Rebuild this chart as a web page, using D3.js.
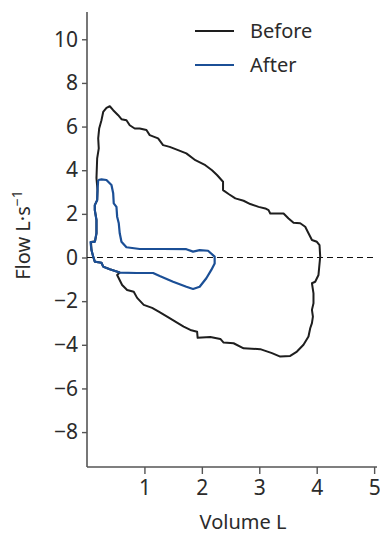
<!DOCTYPE html>
<html>
<head>
<meta charset="utf-8">
<script src="https://cdn.jsdelivr.net/npm/d3@7"></script>
<style>
  body { margin: 0; background: #fff; }
  text { font-family: "Noto Sans", "Open Sans", sans-serif; fill: #2b2b2b; }
</style>
</head>
<body>
<div id="chart"></div>
<script>
// flow-volume loops, volume in L, flow in L/s
var beforeVolume = [0.108, 0.078, 0.070, 0.140, 0.165, 0.165, 0.136, 0.136, 0.177, 0.183, 0.165, 0.177, 0.205, 0.195, 0.212, 0.252, 0.282, 0.339, 0.397, 0.456,
  0.543, 0.600, 0.687, 0.744, 0.831, 0.918, 1.035, 1.092, 1.238, 1.325, 1.440, 1.586, 1.730, 1.887, 2.061, 2.177, 2.264, 2.369, 2.369, 2.466,
  2.583, 2.727, 2.843, 2.988, 3.104, 3.162, 3.191, 3.423, 3.510, 3.597, 3.713, 3.800, 3.857, 3.917, 4.003, 4.049, 4.061, 4.031, 3.974, 3.917,
  3.944, 3.944, 3.917, 3.934, 3.917, 3.887, 3.857, 3.770, 3.656, 3.539, 3.365, 3.221, 3.017, 2.727, 2.553, 2.379, 2.322, 2.148, 1.927, 1.917,
  1.800, 1.683, 1.539, 1.395, 1.249, 1.134, 0.988, 0.873, 0.814, 0.699, 0.612, 0.525, 0.570, 0.397, 0.282, 0.252, 0.136, 0.108];
var beforeFlow = [0.04, 0.34, 0.71, 0.74, 1.11, 1.72, 2.17, 2.40, 2.63, 3.09, 3.64, 4.54, 5.00, 5.46, 5.91, 6.29, 6.67, 6.86, 6.93, 6.75,
  6.52, 6.34, 6.29, 6.06, 5.91, 5.91, 5.84, 5.61, 5.46, 5.15, 5.07, 4.92, 4.77, 4.46, 4.23, 4.00, 3.78, 3.47, 3.09, 2.91,
  2.71, 2.60, 2.45, 2.32, 2.25, 2.17, 2.02, 2.02, 1.79, 1.59, 1.57, 1.41, 1.11, 0.80, 0.72, 0.57, 0.04, -0.80, -1.11, -1.18,
  -1.64, -2.10, -2.40, -2.71, -3.01, -3.24, -3.62, -4.00, -4.31, -4.51, -4.54, -4.38, -4.20, -4.16, -3.93, -3.90, -3.73, -3.64, -3.68, -3.40,
  -3.32, -3.17, -2.94, -2.71, -2.48, -2.31, -2.17, -1.85, -1.57, -1.49, -1.26, -0.80, -0.69, -0.54, -0.42, -0.24, -0.19, 0.04];

var afterVolume = [0.195, 0.252, 0.339, 0.426, 0.456, 0.466, 0.513, 0.525, 0.553, 0.570, 0.600, 0.687, 0.918, 1.325, 1.730, 1.847, 1.962, 2.108, 2.223, 2.223,
  2.165, 2.078, 1.962, 1.847, 1.730, 1.499, 1.266, 1.151, 0.861, 0.570, 0.397, 0.282, 0.252, 0.136, 0.108, 0.078, 0.061, 0.136, 0.165, 0.165,
  0.136, 0.136, 0.177, 0.183, 0.195];
var afterFlow = [3.55, 3.58, 3.55, 3.32, 2.94, 2.48, 2.32, 1.87, 1.57, 1.11, 0.72, 0.47, 0.39, 0.39, 0.38, 0.27, 0.34, 0.31, 0.04, -0.27,
  -0.57, -0.95, -1.34, -1.44, -1.34, -1.11, -0.85, -0.71, -0.71, -0.69, -0.54, -0.42, -0.24, -0.19, 0.04, 0.34, 0.71, 0.72, 1.11, 1.72,
  2.17, 2.40, 2.63, 3.09, 3.55];

var xTicks = [1, 2, 3, 4, 5];
var yTicks = [10, 8, 6, 4, 2, 0, -2, -4, -6, -8];
var legendNames = ['Before', 'After'];
var colors = ['#1e1e1e', '#1b4f96'];

var width = 380, height = 536;

var svg = d3.select('#chart').append('svg').attr('width', width).attr('height', height);

var x = d3.scaleLinear().domain([0, 5.05]).range([87, 377]);
var y = d3.scaleLinear().domain([-9.6, 11.25]).range([467, 12]);

// axes
var xAxis = svg.append('g').attr('transform', 'translate(0,467)')
  .call(d3.axisBottom(x).tickValues(xTicks).tickSize(7).tickPadding(6).tickFormat(d3.format('d')));
var yAxis = svg.append('g').attr('transform', 'translate(87,0)')
  .call(d3.axisLeft(y).tickValues(yTicks).tickSize(5).tickPadding(4)
    .tickFormat(function(d){ return d < 0 ? '\u2212' + (-d) : d; }));

[xAxis, yAxis].forEach(function(a){
  a.select('.domain').attr('stroke', '#555').attr('stroke-width', 1.6);
  a.selectAll('.tick line').attr('stroke', '#555').attr('stroke-width', 1.4);
  a.selectAll('.tick text').attr('font-size', 21).attr('fill', '#2b2b2b')
    .style('font-family', '"Noto Sans", "Open Sans", sans-serif');
});
xAxis.select('.domain').attr('d', 'M' + x(0) + ',0H' + x(5.05));
yAxis.select('.domain').attr('d', 'M0,' + y(-9.6) + 'V' + y(11.25));

// zero flow line
svg.append('line')
  .attr('x1', x(0)).attr('x2', x(5.05))
  .attr('y1', y(0)).attr('y2', y(0))
  .attr('stroke', '#111').attr('stroke-width', 1.2)
  .attr('stroke-dasharray', '6,4');

var line = d3.line()
  .x(function(d){ return x(d[0]); })
  .y(function(d){ return y(d[1]); });

var before = beforeVolume.map(function(v, i){ return [v, beforeFlow[i]]; });
var after = afterVolume.map(function(v, i){ return [v, afterFlow[i]]; });

svg.append('path').datum(before)
  .attr('d', line).attr('fill', 'none')
  .attr('stroke', colors[0]).attr('stroke-width', 2).attr('stroke-linejoin', 'round');
svg.append('path').datum(after)
  .attr('d', line).attr('fill', 'none')
  .attr('stroke', colors[1]).attr('stroke-width', 2.2).attr('stroke-linejoin', 'round');

// legend
var legend = svg.append('g').attr('transform', 'translate(195,31)');
legendNames.forEach(function(name, i){
  var g = legend.append('g').attr('transform', 'translate(0,' + (i * 34) + ')');
  g.append('line').attr('x1', 0).attr('x2', 39).attr('stroke', colors[i]).attr('stroke-width', 1.8);
  g.append('text').attr('x', 55).attr('y', 7).attr('font-size', 20).text(name);
});

// axis titles
svg.append('text')
  .attr('x', 243).attr('y', 529)
  .attr('text-anchor', 'middle').attr('font-size', 20)
  .text('Volume L');

var yTitle = svg.append('text')
  .attr('transform', 'translate(30,235) rotate(-90)')
  .attr('text-anchor', 'middle').attr('font-size', 20);
yTitle.append('tspan').text('Flow L\u00b7s');
yTitle.append('tspan').attr('dy', -8).attr('font-size', 14).text('\u22121');
</script>
</body>
</html>
